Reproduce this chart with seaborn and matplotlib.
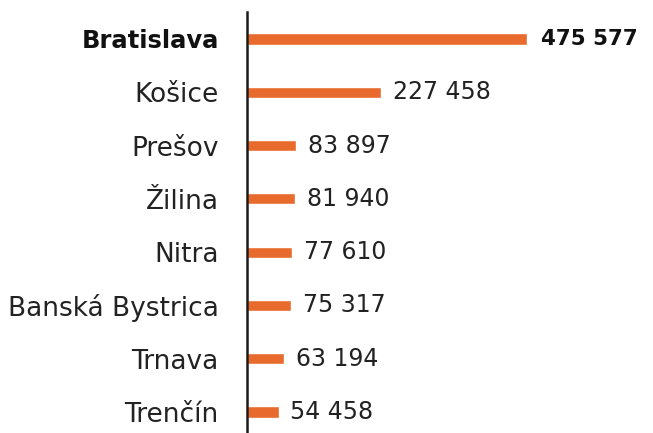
import matplotlib
matplotlib.use("Agg")
import matplotlib.pyplot as plt
import seaborn as sns
import pandas as pd

cities = ["Bratislava", "Košice", "Prešov", "Žilina", "Nitra",
          "Banská Bystrica", "Trnava", "Trenčín"]
population = [475577, 227458, 83897, 81940, 77610, 75317, 63194, 54458]
value_labels = ["475 577", "227 458", "83 897", "81 940", "77 610",
                "75 317", "63 194", "54 458"]

df = pd.DataFrame({"city": cities, "population": population})

sns.set_style("white")
plt.rcParams["font.family"] = ["DejaVu Sans"]

fig = plt.figure(figsize=(6.53, 4.33), dpi=100)
ax = fig.add_axes([246.5 / 653, 0.0, 1 - 246.5 / 653, 1 - 12 / 433])

sns.barplot(data=df, x="population", y="city", orient="h",
            color="#E86A2D", width=0.21, ax=ax, saturation=1)

ax.set_xlim(0, 407 / 0.000591)
ax.set_ylim(7.394, -0.506)

for s in ["top", "right", "bottom"]:
    ax.spines[s].set_visible(False)
ax.spines["left"].set_color("#1a1a1a")
ax.spines["left"].set_linewidth(1.8)

ax.set_xticks([])
ax.set_xlabel("")
ax.set_ylabel("")
ax.tick_params(axis="y", length=0, pad=20, labelsize=19, labelcolor="#222222")
for i, lab in enumerate(ax.get_yticklabels()):
    if i == 0:
        lab.set_fontweight("bold")
        lab.set_fontsize(17.5)
        lab.set_color("#111111")

for i, (v, t) in enumerate(zip(population, value_labels)):
    if i == 0:
        ax.text(v + 24000, i, t, va="center", ha="left", fontsize=15.5,
                color="#111111", fontweight="bold")
    else:
        ax.text(v + 20000, i, t, va="center", ha="left", fontsize=17,
                color="#222222")

fig.savefig("out.png", dpi=100)
